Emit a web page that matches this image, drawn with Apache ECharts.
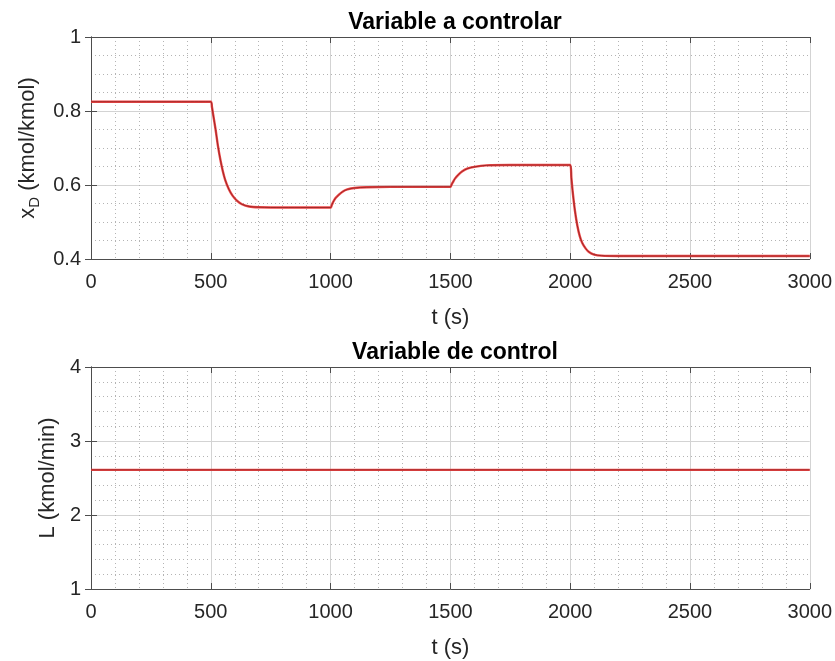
<!DOCTYPE html>
<html>
<head>
<meta charset="utf-8">
<script src="https://cdn.jsdelivr.net/npm/echarts@6/dist/echarts.min.js"></script>
<style>
html,body{margin:0;padding:0;background:#fff;}
#chart{width:835px;height:661px;}
</style>
</head>
<body>
<div id="chart"></div>
<script>
// Top plot: distillate composition x_D vs time
const timeXD = [0, 500, 505, 510, 520, 530, 540, 550, 560, 575, 590, 610, 630, 660, 700, 800, 1000,
  1005, 1010, 1020, 1035, 1050, 1070, 1100, 1150, 1250, 1500,
  1505, 1510, 1520, 1535, 1550, 1570, 1600, 1650, 1750, 2000,
  2005, 2010, 2020, 2030, 2040, 2050, 2065, 2080, 2100, 2130, 2200, 3000];
const valuesXD = [0.825, 0.825, 0.81, 0.79, 0.75, 0.705, 0.668, 0.638, 0.614, 0.589, 0.572, 0.557, 0.548, 0.542, 0.540, 0.539, 0.539,
  0.546, 0.553, 0.564, 0.574, 0.582, 0.588, 0.592, 0.594, 0.595, 0.595,
  0.601, 0.607, 0.618, 0.629, 0.637, 0.644, 0.649, 0.653, 0.654, 0.654,
  0.62, 0.585, 0.530, 0.490, 0.462, 0.444, 0.428, 0.418, 0.412, 0.409, 0.408, 0.408];
// Bottom plot: reflux L vs time
const timeL = [0, 3000];
const valuesL = [2.61, 2.61];

const xTicks = {min: 0, max: 3000, interval: 500};
const topY = {min: 0.4, max: 1, interval: 0.2};
const botY = {min: 1, max: 4, interval: 1};

const titles = ['Variable a controlar', 'Variable de control'];
const xName = 't (s)';

const FONT = 'Liberation Sans, Arial, Helvetica, sans-serif';
const TXT = '#262626';
const AX = '#4d4d4d';

function pairs(t, v) { return t.map((x, i) => [x, v[i]]); }

function mainX(grid) {
  return {
    type: 'value', gridIndex: grid, min: xTicks.min, max: xTicks.max, interval: xTicks.interval,
    name: xName, nameLocation: 'middle', nameGap: 48,
    nameTextStyle: {fontFamily: FONT, fontSize: 22, color: TXT},
    axisLine: {show: true, lineStyle: {color: AX, width: 1}},
    axisTick: {show: true, inside: true, length: 6, lineStyle: {color: AX}},
    axisLabel: {fontFamily: FONT, fontSize: 20, color: TXT, margin: 13, formatter: v => String(v)},
    splitLine: {show: true, lineStyle: {color: '#d3d3d3', width: 1}},
    minorTick: {show: false, splitNumber: 5},
    minorSplitLine: {show: true, lineStyle: {color: '#b4b4b4', width: 1, type: [1, 3]}}
  };
}
function sideX(grid) {
  return {
    type: 'value', gridIndex: grid, position: 'top', min: xTicks.min, max: xTicks.max, interval: xTicks.interval,
    axisLine: {show: true, lineStyle: {color: AX, width: 1}},
    axisTick: {show: true, inside: true, length: 6, lineStyle: {color: AX}},
    axisLabel: {show: false}, splitLine: {show: false}
  };
}
function mainY(grid, cfg, name, gap, minorN) {
  return {
    type: 'value', gridIndex: grid, min: cfg.min, max: cfg.max, interval: cfg.interval,
    name: name, nameLocation: 'middle', nameGap: gap, nameRotate: 90,
    nameTextStyle: {fontFamily: FONT, fontSize: 22, color: TXT,
      rich: {m: {fontFamily: FONT, fontSize: 22, color: TXT},
             s: {fontFamily: FONT, fontSize: 15, color: TXT, padding: [14, 0, 0, 0]}}},
    axisLine: {show: true, lineStyle: {color: AX, width: 1}},
    axisTick: {show: true, inside: true, length: 6, lineStyle: {color: AX}},
    axisLabel: {fontFamily: FONT, fontSize: 20, color: TXT, margin: 10,
      formatter: v => String(+v.toFixed(2))},
    splitLine: {show: true, lineStyle: {color: '#d3d3d3', width: 1}},
    minorTick: {show: false, splitNumber: minorN},
    minorSplitLine: {show: true, lineStyle: {color: '#b4b4b4', width: 1, type: [1, 3]}}
  };
}
function sideY(grid, cfg) {
  return {
    type: 'value', gridIndex: grid, position: 'right', min: cfg.min, max: cfg.max, interval: cfg.interval,
    axisLine: {show: true, lineStyle: {color: AX, width: 1}},
    axisTick: {show: true, inside: true, length: 6, lineStyle: {color: AX}},
    axisLabel: {show: false}, splitLine: {show: false}
  };
}

const chart = echarts.init(document.getElementById('chart'), null, {renderer: 'canvas'});
chart.setOption({
  backgroundColor: '#ffffff',
  animation: false,
  title: [
    {text: titles[0], left: 450, top: 6, textAlign: 'center',
      textStyle: {fontFamily: FONT, fontSize: 23, fontWeight: 'bold', color: '#000'}},
    {text: titles[1], left: 450, top: 336, textAlign: 'center',
      textStyle: {fontFamily: FONT, fontSize: 23, fontWeight: 'bold', color: '#000'}}
  ],
  grid: [
    {left: 91, width: 719, top: 37, height: 222},
    {left: 91, width: 719, top: 367, height: 222}
  ],
  xAxis: [mainX(0), sideX(0), mainX(1), sideX(1)],
  yAxis: [
    mainY(0, topY, '{m|x}{s|D}{m| (kmol/kmol)}', 44, 4),
    sideY(0, topY),
    mainY(1, botY, 'L (kmol/min)', 30, 5),
    sideY(1, botY)
  ],
  series: [
    {type: 'line', xAxisIndex: 0, yAxisIndex: 0, data: pairs(timeXD, valuesXD), showSymbol: false,
      smooth: 0.3, lineStyle: {color: '#f04848', width: 2.4}, z: 3},
    {type: 'line', xAxisIndex: 0, yAxisIndex: 0, data: pairs(timeXD, valuesXD), showSymbol: false,
      smooth: 0.3, lineStyle: {color: '#7a1a1a', width: 0.7}, z: 4},
    {type: 'line', xAxisIndex: 2, yAxisIndex: 2, data: pairs(timeL, valuesL), showSymbol: false,
      lineStyle: {color: '#f04848', width: 2.4}, z: 3},
    {type: 'line', xAxisIndex: 2, yAxisIndex: 2, data: pairs(timeL, valuesL), showSymbol: false,
      lineStyle: {color: '#7a1a1a', width: 0.7}, z: 4}
  ]
});
</script>
</body>
</html>
